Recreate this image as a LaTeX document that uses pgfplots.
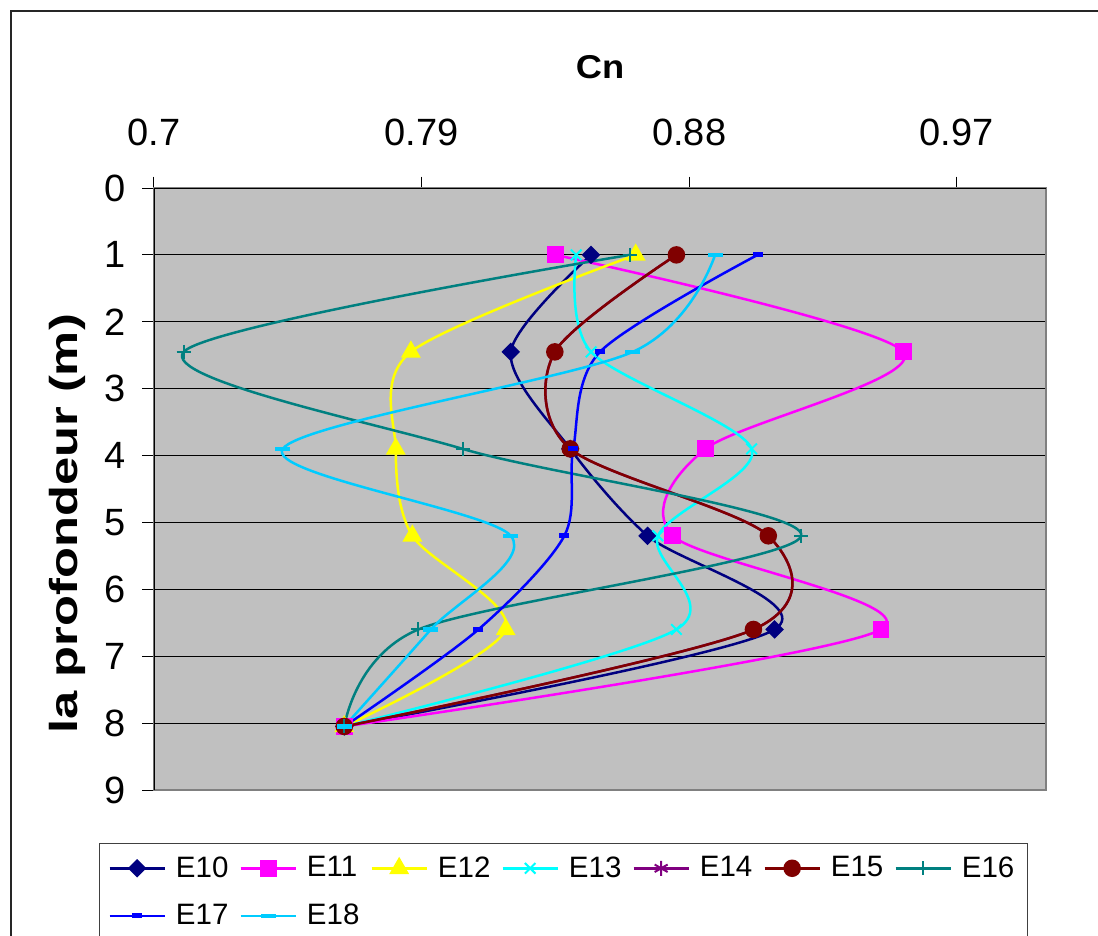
\documentclass[border=0pt]{standalone}
\usepackage{fontspec}
\setmainfont{Liberation Sans}
\usepackage{graphicx}
\usepackage{pgfplots}
\pgfplotsset{compat=1.18}
\definecolor{plotbg}{HTML}{C0C0C0}
\definecolor{cEa}{HTML}{000080}
\definecolor{cEb}{HTML}{FF00FF}
\definecolor{cEc}{HTML}{FFFF00}
\definecolor{cEd}{HTML}{00FFFF}
\definecolor{cEe}{HTML}{800080}
\definecolor{cEf}{HTML}{800000}
\definecolor{cEg}{HTML}{008080}
\definecolor{cEh}{HTML}{0000FF}
\definecolor{cEi}{HTML}{00CCFF}
\begin{document}
\begin{tikzpicture}
\useasboundingbox (-77pt,-73pt) rectangle (472pt,395pt);
\draw[black!85, line width=1pt] (-71.5pt,-90pt) -- (-71.5pt,389.5pt) -- (490pt,389.5pt);
\begin{axis}[
  scale only axis, width=446pt, height=301pt,
  at={(0,0)}, anchor=south west,
  xmin=0.7, xmax=1.0, ymin=0, ymax=9, y dir=reverse,
  xtick={0.7,0.79,0.88,0.97}, ytick={0,1,...,9},
  xtick pos=right, xticklabel pos=right, ytick pos=left, yticklabel pos=left,
  tick align=outside, major tick length=5.75pt,
  tick style={black, line width=0.5pt},
  /pgf/number format/assume math mode=true,
  /pgf/number format/precision=2,
  ticklabel style={font=\fontsize{19}{22}\selectfont},
  xticklabel style={yshift=11.7pt},
  yticklabel style={xshift=-4.7pt},
  axis background/.style={fill=plotbg},
  axis line style={draw=gray, line width=1pt},
  ymajorgrids, major grid style={black, line width=0.5pt},
  title={\scalebox{1.1}[1]{\textbf{Cn}}},
  title style={font=\fontsize{16.5}{20}\selectfont, at={(axis description cs:0.5,1)}, anchor=base, yshift=49pt},
  ylabel={\scalebox{1.3}[1]{\textbf{la profondeur (m)}}},
  every axis y label/.style={at={(axis description cs:-0.0975,0.442)}, rotate=90, anchor=center, font=\fontsize{19.5}{22}\selectfont},
  legend columns=7,
  legend style={at={(axis description cs:-0.0617,-0.088)}, anchor=north west, draw=black!75, line width=0.5pt,
    font=\fontsize{14.75}{17}\selectfont, inner xsep=4.5pt, inner ysep=4.5pt, row sep=8pt, column sep=3pt,
    /tikz/every even column/.append style={column sep=3.5pt}},
  legend cell align=left,
  legend image code/.code={\draw[mark repeat=2,mark phase=2] plot coordinates {(0pt,0pt) (13.75pt,0pt) (27.5pt,0pt)};},
  every axis plot/.append style={line width=1.25pt, smooth, tension=0.5},
]
\addplot[color=cEa, mark=square*, mark size=2.65pt, mark options={solid, rotate=45, fill=cEa}] coordinates {(0.847,1) (0.820,2.45) (0.840,3.9) (0.866,5.2) (0.9087,6.6) (0.764,8.05)};
\addlegendentry{E10}
\addplot[color=cEb, mark=square*, mark size=3.6pt, mark options={solid, fill=cEb}] coordinates {(0.835,1) (0.952,2.45) (0.8855,3.9) (0.8745,5.2) (0.9445,6.6) (0.764,8.05)};
\addlegendentry{E11}
\addplot[color=cEc, mark=triangle*, mark size=4.5pt, mark options={solid, fill=cEc}] coordinates {(0.862,1) (0.7864,2.45) (0.7813,3.9) (0.7869,5.2) (0.8183,6.6) (0.764,8.05)};
\addlegendentry{E12}
\addplot[color=cEd, mark=x, mark size=3.75pt, mark options={solid, line width=1pt}] coordinates {(0.842,1) (0.847,2.45) (0.901,3.9) (0.8695,5.2) (0.8757,6.6) (0.764,8.05)};
\addlegendentry{E13}
\addplot[color=cEe, mark=asterisk, mark size=3.75pt, mark options={solid, line width=1pt}] coordinates {(0.8757,1) (0.8348,2.45) (0.840,3.9) (0.9066,5.2) (0.9016,6.6) (0.764,8.05)};
\addlegendentry{E14}
\addplot[color=cEf, mark=*, mark size=3.75pt, mark options={solid, fill=cEf}] coordinates {(0.8757,1) (0.8348,2.45) (0.840,3.9) (0.9066,5.2) (0.9016,6.6) (0.764,8.05)};
\addlegendentry{E15}
\addplot[color=cEg, mark=+, mark size=3.5pt, mark options={solid, line width=1pt}] coordinates {(0.860,1) (0.710,2.45) (0.8038,3.9) (0.9177,5.2) (0.7889,6.6) (0.764,8.05)};
\addlegendentry{E16}
\addplot[color=cEh, mark=-, mark size=2.5pt, mark options={solid, line width=2.5pt}] coordinates {(0.903,1) (0.850,2.45) (0.841,3.9) (0.838,5.2) (0.8091,6.6) (0.764,8.05)};
\addlegendentry{E17}
\addplot[color=cEi, mark=-, mark size=3.75pt, mark options={solid, line width=2.25pt}] coordinates {(0.8887,1) (0.861,2.45) (0.7433,3.9) (0.820,5.2) (0.7931,6.6) (0.764,8.05)};
\addlegendentry{E18}
\draw[black, line width=1pt] (axis cs:0.7,9) -- (axis cs:0.7,0) -- (axis cs:1.0,0);
\end{axis}
\end{tikzpicture}
\end{document}
